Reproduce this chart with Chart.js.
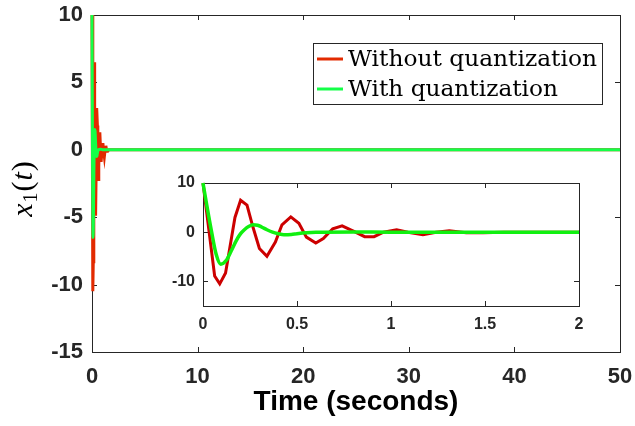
<!DOCTYPE html>
<html>
<head>
<meta charset="utf-8">
<script src="https://cdn.jsdelivr.net/npm/chart.js@4.4.0/dist/chart.umd.min.js"></script>
<style>
  html, body { margin: 0; padding: 0; background: #fff; }
  #wrap { position: relative; width: 635px; height: 426px; }
  #mainChart { position: absolute; left: 0; top: 0; }
  #insetChart { position: absolute; left: 150px; top: 170px; }
</style>
</head>
<body>
<div id="wrap">
  <canvas id="mainChart" width="635" height="426"></canvas>
  <canvas id="insetChart" width="450" height="175"></canvas>
</div>
<script>
// datos
const seriesNames = ["Without quantization", "With quantization"];

const tRed = [0, 0.062, 0.089, 0.12, 0.17, 0.2, 0.234, 0.266, 0.30, 0.34, 0.385, 0.42, 0.467, 0.51, 0.55, 0.6, 0.64, 0.69, 0.74, 0.8, 0.86, 0.91, 0.96, 1.03, 1.09, 1.17, 1.24, 1.31, 1.4, 1.49, 1.6, 1.75, 2, 50];
const xRed = [10, -8.9, -10.5, -8.3, 3, 6.5, 5.5, 1, -3.3, -4.9, -2, 1.5, 3.1, 1.8, -1, -2.2, -1.3, 0.7, 1.3, 0.2, -0.9, -0.9, 0, 0.5, 0, -0.5, 0, 0.3, -0.1, -0.1, 0, 0, 0, 0];

const tGreen = [0, 0.02, 0.046, 0.07, 0.094, 0.124, 0.15, 0.177, 0.2, 0.22, 0.245, 0.266, 0.29, 0.31, 0.34, 0.37, 0.4, 0.43, 0.47, 0.5, 0.55, 0.6, 0.8, 1, 2, 50];
const xGreen = [10, 5.5, 0, -4.5, -6.5, -5.7, -3.8, -1.7, -0.3, 0.5, 1.2, 1.5, 1.4, 1.1, 0.5, 0, -0.3, -0.5, -0.45, -0.3, -0.1, 0, 0.05, 0, 0, 0];

const mainXTicks = [0, 10, 20, 30, 40, 50];
const mainYTicks = [-15, -10, -5, 0, 5, 10];
const insetXTicks = [0, 0.5, 1, 1.5, 2];
const insetYTicks = [-10, 0, 10];

const axisColor = "#262626";

function toPoints(ts, vs) {
  return ts.map((t, i) => ({ x: t, y: vs[i] }));
}

// caja con marcas hacia dentro, estilo MATLAB
const boxAxes = {
  id: "boxAxes",
  beforeDraw(chart, args, opts) {
    if (!opts.fill) return;
    const a = chart.chartArea;
    chart.ctx.save();
    chart.ctx.fillStyle = "#fff";
    chart.ctx.fillRect(a.left, a.top, a.right - a.left, a.bottom - a.top);
    chart.ctx.restore();
  },
  beforeDatasetsDraw(chart, args, opts) {
    const { ctx, chartArea: a, scales: { x, y } } = chart;
    const L = opts.len || 5;
    ctx.save();
    ctx.strokeStyle = axisColor;
    ctx.lineWidth = 1;
    ctx.strokeRect(Math.round(a.left) + 0.5, Math.round(a.top) + 0.5,
                   Math.round(a.right - a.left), Math.round(a.bottom - a.top));
    ctx.beginPath();
    (opts.xTicks || []).forEach(v => {
      const px = Math.round(x.getPixelForValue(v)) + 0.5;
      ctx.moveTo(px, a.bottom); ctx.lineTo(px, a.bottom - L);
      ctx.moveTo(px, a.top); ctx.lineTo(px, a.top + L);
    });
    (opts.yTicks || []).forEach(v => {
      const py = Math.round(y.getPixelForValue(v)) + 0.5;
      ctx.moveTo(a.left, py); ctx.lineTo(a.left + L, py);
      ctx.moveTo(a.right, py); ctx.lineTo(a.right - L, py);
    });
    ctx.stroke();
    ctx.restore();
  }
};

// etiqueta del eje y: x_1(t)
const yLabel = {
  id: "yLabel",
  afterDraw(chart) {
    const ctx = chart.ctx;
    const a = chart.chartArea;
    const big = "30px 'Liberation Serif'";
    const bigIt = "italic 30px 'Liberation Serif'";
    const small = "20px 'Liberation Serif'";
    const parts = [
      { s: "x", f: bigIt, dy: 0 },
      { s: "1", f: small, dy: 5 },
      { s: "(", f: big, dy: 0 },
      { s: "t", f: bigIt, dy: 0 },
      { s: ")", f: big, dy: 0 }
    ];
    ctx.save();
    let w = 0;
    parts.forEach(p => { ctx.font = p.f; p.w = ctx.measureText(p.s).width + 1; w += p.w; });
    ctx.translate(32, (a.top + a.bottom) / 2 + 5);
    ctx.rotate(-Math.PI / 2);
    ctx.fillStyle = "#000";
    ctx.textBaseline = "alphabetic";
    let cx = -w / 2;
    parts.forEach(p => { ctx.font = p.f; ctx.fillText(p.s, cx, p.dy); cx += p.w; });
    ctx.restore();
  }
};

// leyenda con recuadro
const boxLegend = {
  id: "boxLegend",
  afterDraw(chart) {
    const ctx = chart.ctx;
    const a = chart.chartArea;
    const bx = a.right - 307, by = a.top + 28, bw = 289, bh = 61;
    ctx.save();
    ctx.fillStyle = "#fff";
    ctx.fillRect(bx, by, bw, bh);
    ctx.strokeStyle = axisColor;
    ctx.lineWidth = 1;
    ctx.strokeRect(bx + 0.5, by + 0.5, bw, bh);
    ctx.font = "22px 'DejaVu Serif'";
    ctx.textBaseline = "alphabetic";
    chart.data.datasets.forEach((ds, i) => {
      const ly = by + 16 + i * 30;
      ctx.strokeStyle = ds.legendColor || ds.borderColor;
      ctx.lineWidth = 3;
      ctx.beginPath();
      ctx.moveTo(bx + 4, ly); ctx.lineTo(bx + 30, ly);
      ctx.stroke();
      ctx.fillStyle = "#000";
      const tw = ctx.measureText(ds.label).width;
      const target = i === 0 ? 249 : 210;
      ctx.save();
      ctx.translate(bx + 35, ly + 7);
      ctx.scale(target / tw, 1);
      ctx.fillText(ds.label, 0, 0);
      ctx.restore();
    });
    ctx.restore();
  }
};

const tickFont = (size) => ({ family: "'Liberation Sans', Arial", size: size, weight: "bold" });

// grafico principal
new Chart(document.getElementById("mainChart").getContext("2d"), {
  type: "line",
  data: {
    datasets: [
      {
        label: seriesNames[0],
        data: toPoints(tRed, xRed),
        borderColor: "#e22a00",
        legendColor: "#e22a00",
        borderWidth: 3,
        pointRadius: 0,
        tension: 0,
        order: 2,
        clip: 3
      },
      {
        label: seriesNames[1],
        data: toPoints(tGreen, xGreen),
        borderColor: "#14ff48",
        legendColor: "#14ff48",
        borderWidth: 3,
        pointRadius: 0,
        cubicInterpolationMode: "monotone",
        order: 1,
        clip: 3
      }
    ]
  },
  options: {
    responsive: false,
    animation: false,
    events: [],
    layout: { padding: 0 },
    plugins: {
      legend: { display: false },
      tooltip: { enabled: false },
      boxAxes: { xTicks: mainXTicks, yTicks: mainYTicks, len: 5 }
    },
    scales: {
      x: {
        type: "linear",
        min: 0,
        max: 50,
        afterBuildTicks: s => { s.ticks = mainXTicks.map(v => ({ value: v })); },
        ticks: { font: tickFont(22), color: axisColor, padding: 12, maxRotation: 0 },
        grid: { display: false, drawTicks: false },
        border: { display: false },
        title: {
          display: true,
          text: "Time (seconds)",
          color: "#000",
          font: { family: "'Liberation Sans', Arial", size: 28, weight: "bold" },
          padding: { top: 0, bottom: 7 }
        },
        afterFit: s => { s.height = 74; s.paddingLeft = 0; s.paddingRight = 15; }
      },
      y: {
        type: "linear",
        min: -15,
        max: 10,
        afterBuildTicks: s => { s.ticks = mainYTicks.map(v => ({ value: v })); },
        ticks: { font: tickFont(22), color: axisColor, padding: 9 },
        grid: { display: false, drawTicks: false },
        border: { display: false },
        afterFit: s => { s.width = 92; s.paddingTop = 15; s.paddingBottom = 0; }
      }
    }
  },
  plugins: [boxAxes, yLabel, boxLegend]
});

// grafico ampliado (0 a 2 s)
new Chart(document.getElementById("insetChart").getContext("2d"), {
  type: "line",
  data: {
    datasets: [
      {
        label: seriesNames[0],
        data: toPoints(tRed, xRed),
        borderColor: "#cc0000",
        borderWidth: 3,
        pointRadius: 0,
        tension: 0,
        order: 2,
        clip: { left: 3, top: 3, right: 0, bottom: 3 }
      },
      {
        label: seriesNames[1],
        data: toPoints(tGreen, xGreen),
        borderColor: "#10f010",
        borderWidth: 3.5,
        pointRadius: 0,
        cubicInterpolationMode: "monotone",
        order: 1,
        clip: { left: 3, top: 3, right: 0, bottom: 3 }
      }
    ]
  },
  options: {
    responsive: false,
    animation: false,
    events: [],
    layout: { padding: 0 },
    plugins: {
      legend: { display: false },
      tooltip: { enabled: false },
      boxAxes: { xTicks: insetXTicks, yTicks: insetYTicks, len: 5, fill: true }
    },
    scales: {
      x: {
        type: "linear",
        min: 0,
        max: 2,
        afterBuildTicks: s => { s.ticks = insetXTicks.map(v => ({ value: v })); },
        ticks: { font: tickFont(16), color: axisColor, padding: 9, maxRotation: 0, callback: v => String(v) },
        grid: { display: false, drawTicks: false },
        border: { display: false },
        afterFit: s => { s.height = 39; s.paddingLeft = 0; s.paddingRight = 21; }
      },
      y: {
        type: "linear",
        min: -15,
        max: 10,
        afterBuildTicks: s => { s.ticks = insetYTicks.map(v => ({ value: v })); },
        ticks: { font: tickFont(16), color: axisColor, padding: 8 },
        grid: { display: false, drawTicks: false },
        border: { display: false },
        afterFit: s => { s.width = 53; s.paddingTop = 13; s.paddingBottom = 0; }
      }
    }
  },
  plugins: [boxAxes]
});
</script>
</body>
</html>
